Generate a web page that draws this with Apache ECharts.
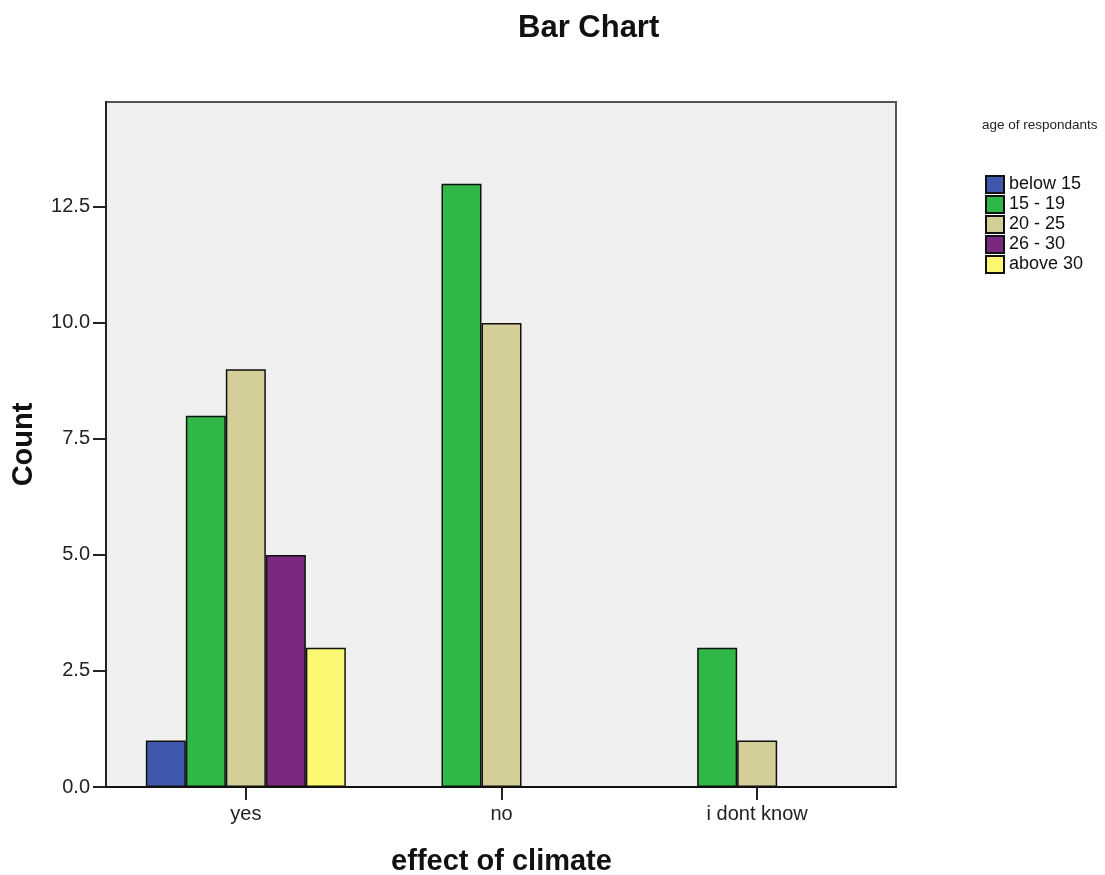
<!DOCTYPE html>
<html>
<head>
<meta charset="utf-8">
<script src="https://cdn.jsdelivr.net/npm/echarts@6/dist/echarts.min.js"></script>
<style>html,body{margin:0;padding:0;background:#fff}#c{width:1105px;height:875px}</style>
</head>
<body>
<div id="c"></div>
<script>
const categories = ['yes', 'no', 'i dont know'];
const seriesNames = ['below 15', '15 - 19', '20 - 25', '26 - 30', 'above 30'];
const below15 = [1, null, null];
const age15to19 = [8, 13, 3];
const age20to25 = [9, 10, 1];
const age26to30 = [5, null, null];
const above30 = [3, null, null];
const yTicks = [0, 2.5, 5, 7.5, 10, 12.5];
const yMax = 14.76;

const colors = ['#3f58ad', '#2fb847', '#d4cf98', '#7b287f', '#fbf873'];
const FONT = '"Liberation Sans", Arial, sans-serif';

const chart = echarts.init(document.getElementById('c'));
chart.setOption({
  animation: false,
  backgroundColor: '#ffffff',
  title: {
    text: 'Bar Chart', left: 513, top: 8,
    textStyle: { fontFamily: FONT, fontSize: 31, fontWeight: 'bold', color: '#111' }
  },
  graphic: [{
    type: 'text', left: 982, top: 118,
    style: { text: 'age of respondants', font: '13.5px ' + FONT, fill: '#222' }
  }],
  legend: {
    orient: 'vertical', left: 985, top: 175, padding: 0,
    itemWidth: 18, itemHeight: 17, itemGap: 1,
    icon: 'rect',
    data: seriesNames,
    textStyle: { fontFamily: FONT, fontSize: 18, color: '#111' }
  },
  grid: [
    { left: 106, right: 209, top: 102, bottom: 88, outerBoundsMode: 'none', containLabel: false,
      show: true, backgroundColor: '#f0f0f0', borderColor: '#555', borderWidth: 2 },
    { left: 118, right: 220, top: 102, bottom: 88, outerBoundsMode: 'none', containLabel: false }
  ],
  xAxis: [
    { type: 'category', gridIndex: 0, data: categories,
      axisLine: { show: true, lineStyle: { color: '#111', width: 2 } },
      axisTick: { show: false }, axisLabel: { show: false } },
    {
      type: 'category', gridIndex: 1, data: categories,
      axisLine: { show: false },
      axisTick: { show: true, alignWithLabel: true, length: 13, lineStyle: { color: '#222', width: 2 } },
      axisLabel: { fontFamily: FONT, fontSize: 20, color: '#222', margin: 17 },
      name: 'effect of climate', nameLocation: 'middle', nameGap: 60,
      nameTextStyle: { fontFamily: FONT, fontSize: 29, fontWeight: 'bold', color: '#111' }
    }
  ],
  yAxis: [
    {
      type: 'value', gridIndex: 0, min: 0, max: yMax,
      axisLine: { show: true, lineStyle: { color: '#222', width: 2 } },
      axisTick: { show: true, inside: false, length: 13, customValues: yTicks, lineStyle: { color: '#222', width: 2 } },
      axisLabel: { customValues: yTicks, fontFamily: FONT, fontSize: 20, color: '#222', margin: 16,
        formatter: v => v.toFixed(1) },
      splitLine: { show: false },
      name: 'Count', nameLocation: 'middle', nameGap: 68,
      nameTextStyle: { fontFamily: FONT, fontSize: 29, fontWeight: 'bold', color: '#111' }
    },
    { type: 'value', gridIndex: 1, min: 0, max: yMax, show: false, splitLine: { show: false } }
  ],
  series: [
    { name: seriesNames[0], type: 'bar', xAxisIndex: 1, yAxisIndex: 1, data: below15, barWidth: 40, barGap: '0%',
      itemStyle: { color: colors[0], borderColor: '#111', borderWidth: 1.5 } },
    { name: seriesNames[1], type: 'bar', xAxisIndex: 1, yAxisIndex: 1, data: age15to19, barWidth: 40, barGap: '0%',
      itemStyle: { color: colors[1], borderColor: '#111', borderWidth: 1.5 } },
    { name: seriesNames[2], type: 'bar', xAxisIndex: 1, yAxisIndex: 1, data: age20to25, barWidth: 40, barGap: '0%',
      itemStyle: { color: colors[2], borderColor: '#111', borderWidth: 1.5 } },
    { name: seriesNames[3], type: 'bar', xAxisIndex: 1, yAxisIndex: 1, data: age26to30, barWidth: 40, barGap: '0%',
      itemStyle: { color: colors[3], borderColor: '#111', borderWidth: 1.5 } },
    { name: seriesNames[4], type: 'bar', xAxisIndex: 1, yAxisIndex: 1, data: above30, barWidth: 40, barGap: '0%',
      itemStyle: { color: colors[4], borderColor: '#111', borderWidth: 1.5 } }
  ]
});
</script>
</body>
</html>
